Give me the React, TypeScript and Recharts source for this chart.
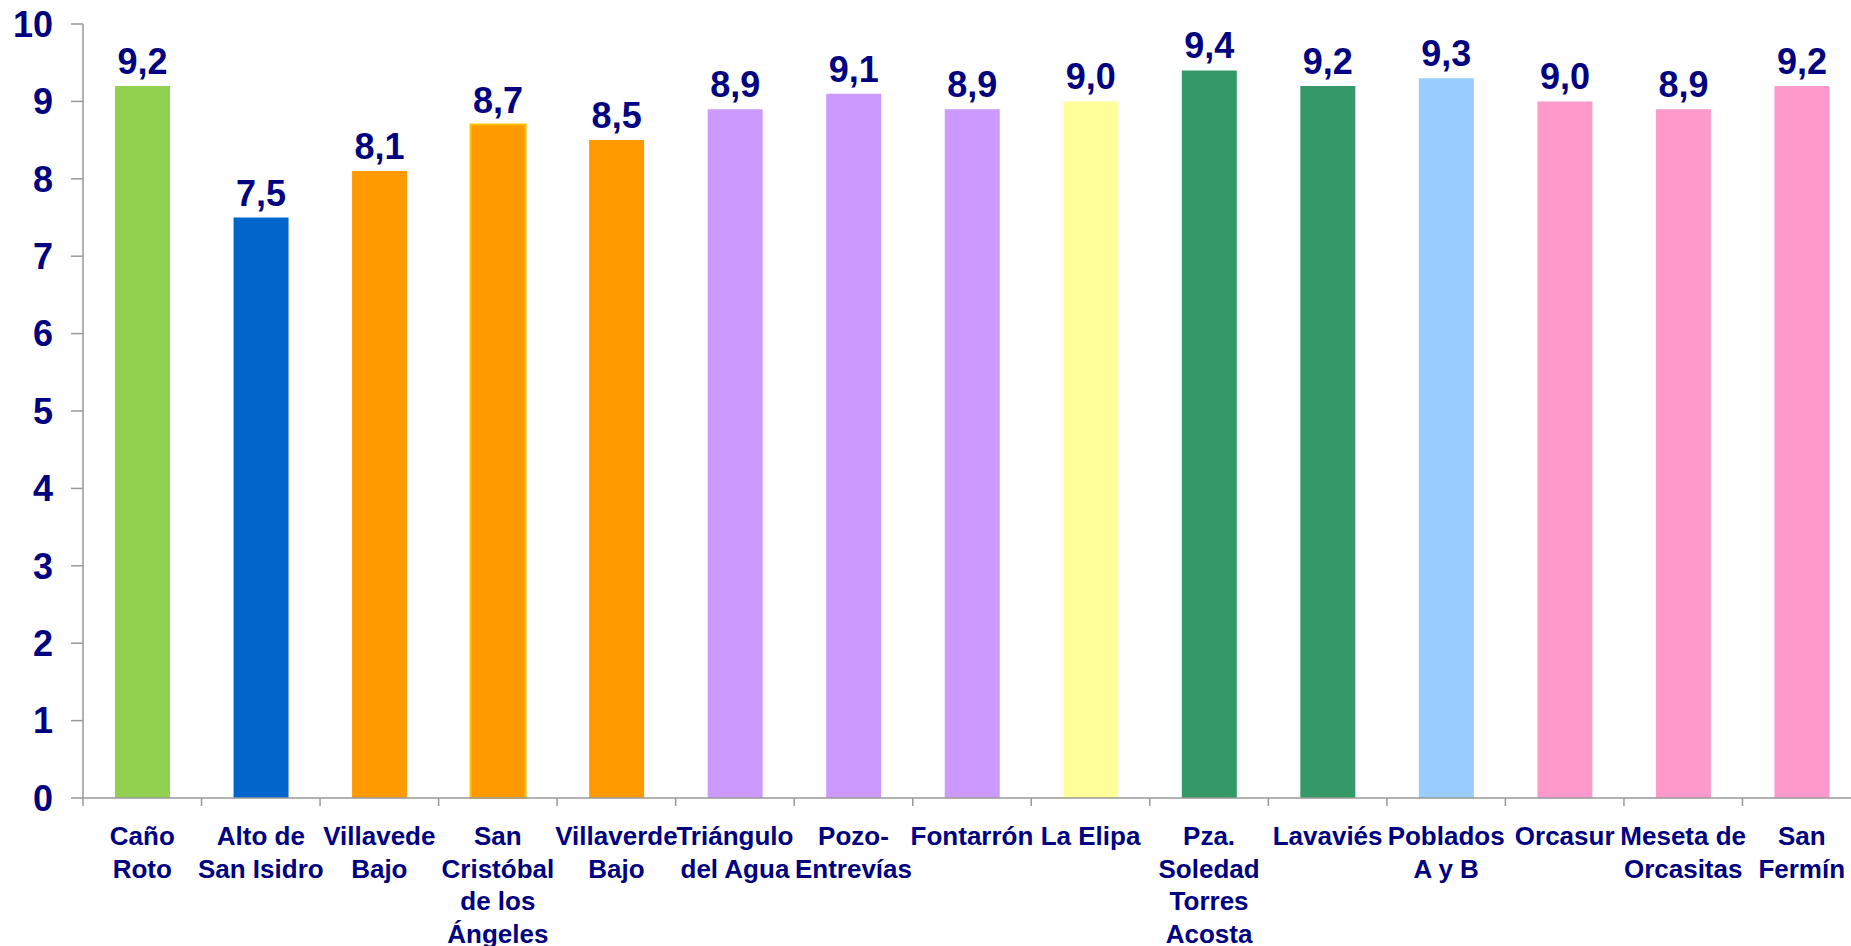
import { BarChart, Bar, XAxis, YAxis, Cell, LabelList } from 'recharts'

const categories = [
  'Caño Roto', 'Alto de San Isidro', 'Villavede Bajo', 'San Cristóbal de los Ángeles',
  'Villaverde Bajo', 'Triángulo del Agua', 'Pozo-Entrevías', 'Fontarrón', 'La Elipa',
  'Pza. Soledad Torres Acosta', 'Lavaviés', 'Poblados A y B', 'Orcasur',
  'Meseta de Orcasitas', 'San Fermín',
]

const tickLines = [
  ['Caño', 'Roto'], ['Alto de', 'San Isidro'], ['Villavede', 'Bajo'],
  ['San', 'Cristóbal', 'de los', 'Ángeles'], ['Villaverde', 'Bajo'],
  ['Triángulo', 'del Agua'], ['Pozo-', 'Entrevías'], ['Fontarrón'], ['La Elipa'],
  ['Pza.', 'Soledad', 'Torres', 'Acosta'], ['Lavaviés'], ['Poblados', 'A y B'],
  ['Orcasur'], ['Meseta de', 'Orcasitas'], ['San', 'Fermín'],
]

const scores = [9.2, 7.5, 8.1, 8.7, 8.5, 8.9, 9.1, 8.9, 9.0, 9.4, 9.2, 9.3, 9.0, 8.9, 9.2]

const barColours = [
  '#92D050', '#0066CC', '#FF9900', '#FF9900', '#FF9900', '#CC99FF', '#CC99FF', '#CC99FF',
  '#FFFF99', '#339966', '#339966', '#99CCFF', '#FF99CC', '#FF99CC', '#FF99CC',
]

const yTicks = [0, 1, 2, 3, 4, 5, 6, 7, 8, 9, 10]

const data = categories.map((name, i) => ({ name, value: scores[i] }))

const NAVY = '#000080'
const FONT = '"Liberation Sans", Arial, sans-serif'
const CHART_W = 1861
const Y_AXIS_W = 83
const BAND = (CHART_W - Y_AXIS_W) / categories.length

function CategoryTick(props: any) {
  const { x, y, payload } = props
  const lines = tickLines[payload.index] || [payload.value]
  const last = payload.index === categories.length - 1
  return (
    <g>
      <line x1={x - BAND / 2} x2={x - BAND / 2} y1={y} y2={y + 8} stroke="#999" strokeWidth={1.5} />
      {last && <line x1={x + BAND / 2} x2={x + BAND / 2} y1={y} y2={y + 8} stroke="#999" strokeWidth={1.5} />}
      <text textAnchor="middle" fontFamily={FONT} fontWeight="bold" fontSize={26} fill={NAVY}>
        {lines.map((l, i) => (
          <tspan key={i} x={x} y={y + 47 + i * 32.5}>{l}</tspan>
        ))}
      </text>
    </g>
  )
}

export default function App() {
  return (
    <div style={{ position: 'absolute', left: 0, top: 0, width: 1851, height: 946, overflow: 'hidden', background: '#fff' }}>
      <BarChart width={CHART_W} height={946} data={data} margin={{ top: 24, right: 0, bottom: 0, left: 0 }} barSize={55}>
        <XAxis
          dataKey="name"
          interval={0}
          tick={<CategoryTick />}
          tickLine={false}
          tickSize={0}
          tickMargin={0}
          height={148}
          axisLine={{ stroke: '#999', strokeWidth: 1.5 }}
        />
        <YAxis
          domain={[0, 10]}
          ticks={yTicks}
          width={Y_AXIS_W}
          tickSize={12}
          tickMargin={18}
          axisLine={{ stroke: '#999', strokeWidth: 1.5 }}
          tickLine={{ stroke: '#999', strokeWidth: 1.5 }}
          tick={{ fontSize: 36, fontWeight: 'bold', fontFamily: FONT, fill: NAVY }}
        />
        <Bar dataKey="value" isAnimationActive={false}>
          {data.map((_, i) => (
            <Cell key={i} fill={barColours[i]} stroke={i === 3 ? '#FFC000' : 'none'} strokeWidth={i === 3 ? 2 : 0} />
          ))}
          <LabelList
            dataKey="value"
            position="top"
            offset={12}
            formatter={(v: any) => Number(v).toFixed(1).replace('.', ',')}
            style={{ fontSize: 36, fontWeight: 'bold', fontFamily: FONT, fill: NAVY }}
          />
        </Bar>
      </BarChart>
    </div>
  )
}
